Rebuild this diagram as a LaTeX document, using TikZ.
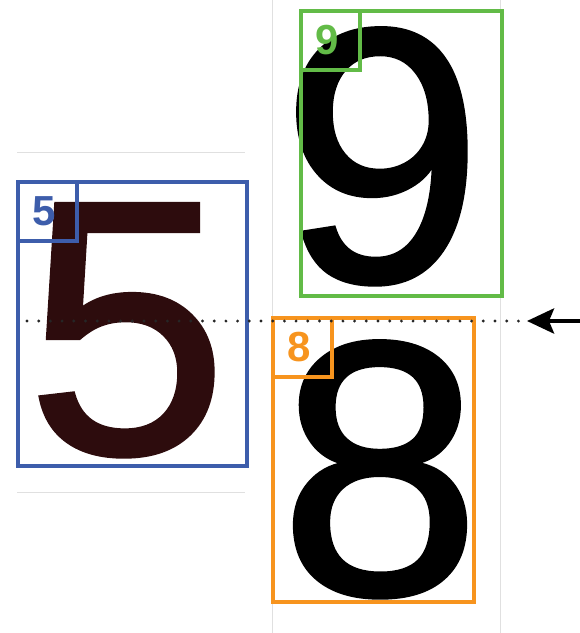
\documentclass[tikz,border=0pt]{standalone}
\usepackage{fontspec}
\setmainfont{Liberation Sans}
\newfontface\heavyface[RawFeature={embolden=1.2}]{Liberation Sans}
\usetikzlibrary{arrows.meta}

\begin{document}
\begin{tikzpicture}[x=1pt, y=-1pt,
        frame/.style={draw, anchor=north west, inner sep=0pt, line width=3.5pt},
        bigdigit/.style={anchor=base, inner sep=0pt, font=\heavyface\fontsize{362}{362}\selectfont},
        tagdigit/.style={inner sep=0pt, font=\bfseries\fontsize{42}{42}\selectfont},
        guide/.style={draw=black!12, line width=0.8pt},
        dotline/.style={draw=black!85, line width=3.2pt, line cap=round, dash pattern=on 0pt off 11.7pt},
        pointer/.style={draw=black, line width=4.4pt, -{Stealth[length=27pt, width=25pt, inset=5pt]}}]
    % S = side of the small tag square in the top-left corner of each box
    \def\S{59pt}

    \definecolor{colB}{HTML}{3D5DAB}
    \definecolor{colG}{HTML}{62BB47}
    \definecolor{colO}{HTML}{F7941E}
    \definecolor{colD}{HTML}{2D0C0D}

    % Macro for drawing a coloured box with its tag square and tag digit
    \newcommand{\tagbox}[7]{
        \node[frame, draw=#6, minimum width=#4, minimum height=#5] (#1) at (#2,#3) {};
        \node[frame, draw=#6, minimum width=\S, minimum height=\S] (#1tag) at (#2,#3) {};
        \node[tagdigit, text=#6] (#1num) at ([xshift=-3pt]#1tag.center) {#7};
    }

    \useasboundingbox (0,0) rectangle (580,633);

    % Faint page guides
    \draw[guide] (17,152) -- (245,152);
    \draw[guide] (17,492) -- (245,492);
    \draw[guide] (272,0) -- (272,633);
    \draw[guide] (500,0) -- (500,633);

    % Big digits
    \node[bigdigit, text=colD] (five) at (127,453) {5};
    \node[bigdigit, text=black] (nine) at (382,281) {9};
    \node[bigdigit, text=black] (eight) at (380,594) {8};

    % Boxes (Blue 5, Green 9, Orange 8)
    \tagbox{boxB}{16}{180}{229pt}{284pt}{colB}{5}
    \tagbox{boxG}{299}{9}{201pt}{285pt}{colG}{9}
    \tagbox{boxO}{271}{316}{201pt}{284pt}{colO}{8}

    % Dotted line and arrow
    \coordinate (dotL) at (27,321);
    \coordinate (dotR) at (519,321);
    \draw[dotline] (dotL) -- (dotR);

    \coordinate (arrowS) at (582,321);
    \coordinate (arrowT) at (527,321);
    \draw[pointer] (arrowS) -- (arrowT);
\end{tikzpicture}
\end{document}
